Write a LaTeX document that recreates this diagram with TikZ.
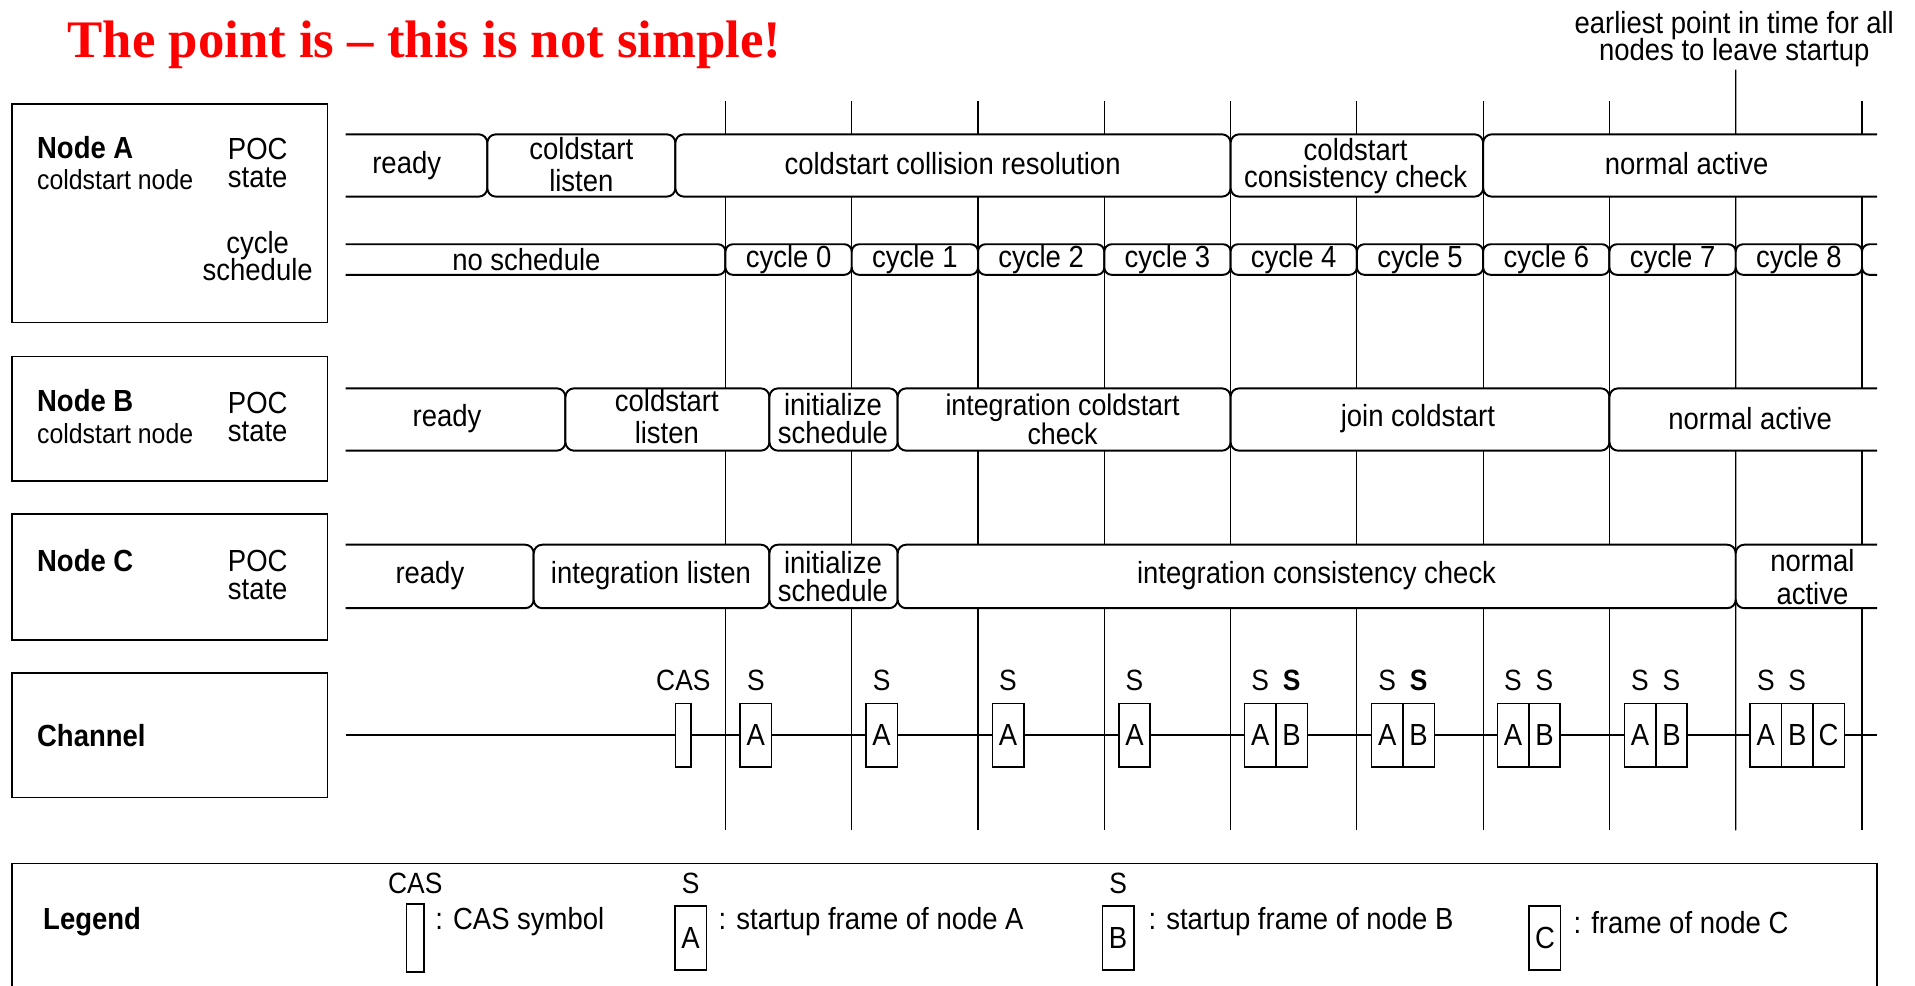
\documentclass[tikz,border=0pt]{standalone}
\usepackage{fontspec}
\setmainfont{Liberation Sans}[FakeStretch=0.9]
\newfontfamily\titlefont{Liberation Serif}[Ligatures=TeX]
\definecolor{titlered}{RGB}{255,0,0}
\begin{document}
\lineskiplimit=-20pt
\begin{tikzpicture}[x=0.5pt,y=-0.5pt,
  lbl/.style={inner sep=0pt, align=center, font=\fontsize{12.5}{13}\selectfont},
  lbltight/.style={inner sep=0pt, align=center, font=\fontsize{12.5}{11.5}\selectfont},
  hdr/.style={inner sep=0pt, anchor=west, font=\bfseries\fontsize{12.5}{13}\selectfont},
  subl/.style={inner sep=0pt, anchor=west, font=\fontsize{11.3}{13}\selectfont},
  nbox/.style={draw, line width=0.65pt},
  seg/.style={draw, fill=white, line width=0.8pt, rounded corners=3.5pt},
  cyc/.style={draw, fill=white, line width=0.8pt, rounded corners=3pt},
  vl/.style={line width=0.5pt},
  chan/.style={line width=1pt},
  frm/.style={draw, fill=white, line width=0.65pt, inner sep=0pt, minimum width=12.85pt, minimum height=26pt, font=\fontsize{12.5}{13}\selectfont},
  slbl/.style={inner sep=0pt, font=\fontsize{12}{13}\selectfont},
]
\useasboundingbox (0,0) rectangle (1568,807);
\clip (0,0) rectangle (1568,807);

% title
\node[anchor=base west, inner sep=0pt, text=titlered, font=\titlefont\bfseries\fontsize{21.6}{24}\selectfont] (title) at (55,47) {The point is – this is not simple!};

% annotation
\node[lbl, font=\fontsize{12.5}{11}\selectfont] (earliest) at (1420,32) {earliest point in time for all\\nodes to leave startup};

% vertical cycle lines
\foreach \k in {0,...,9} {
  \pgfmathsetmacro\xx{594+103.4*\k}
  \coordinate (vt\k) at (\xx,83);
  \coordinate (vb\k) at (\xx,680);
}
\coordinate (vt8) at (1421.2,57);
\foreach \k in {0,...,9} { \draw[vl] (vt\k) -- (vb\k); }

% left boxes
\draw[nbox] (10,85) rectangle (268,264);
\draw[nbox] (10,292) rectangle (268,394);
\draw[nbox] (10,421) rectangle (268,524);
\draw[nbox] (10,551) rectangle (268,653);
\draw[nbox] (10,707) rectangle (1537,830);

\node[hdr] (nA) at (30,121) {Node A};
\node[subl] (nAs) at (30,147) {coldstart node};
\node[lbltight] (pocA) at (211,133.5) {POC\\state};
\node[lbl, font=\fontsize{12.5}{11}\selectfont] (cycA) at (211,210) {cycle\\schedule};

\node[hdr] (nB) at (30,328) {Node B};
\node[subl] (nBs) at (30,355) {coldstart node};
\node[lbltight] (pocB) at (211,341.5) {POC\\state};

\node[hdr] (nC) at (30,459) {Node C};
\node[lbltight] (pocC) at (211,471) {POC\\state};

\node[hdr] (chn) at (30,602) {Channel};

% ---- Node A POC state row
\draw[seg] (283,110) -- (399,110) -- (399,161) -- (283,161);
\draw[seg] (399,110) rectangle (553,161);
\draw[seg] (553,110) rectangle (1007.6,161);
\draw[seg] (1007.6,110) rectangle (1214.4,161);
\draw[seg] (1537,110) -- (1214.4,110) -- (1214.4,161) -- (1537,161);
\node[lbl] (a1) at (333,135.5) {ready};
\node[lbl] (a2) at (476,134.5) {coldstart\\listen};
\node[lbl] (a3) at (780,134) {coldstart collision resolution};
\node[lbl, font=\fontsize{12.5}{11.2}\selectfont] (a4) at (1110,136) {coldstart\\consistency check};
\node[lbl] (a5) at (1381,134) {normal active};

% ---- Node A cycle schedule row
\draw[cyc] (283,200) -- (594,200) -- (594,225) -- (283,225);
\node[lbl] (ns) at (431,212.5) {no schedule};
\foreach \k in {0,...,8} {
  \pgfmathsetmacro\xa{594+103.4*\k}
  \pgfmathsetmacro\xb{594+103.4*(\k+1)}
  \pgfmathsetmacro\xm{594+103.4*(\k+0.5)}
  \draw[cyc] (\xa,200) rectangle (\xb,225);
  \node[lbl] (cy\k) at (\xm,212.5) {cycle \k};
}
\draw[cyc] (1537,200) -- (1524.6,200) -- (1524.6,225) -- (1537,225);

% ---- Node B POC state row
\draw[seg] (283,318) -- (463,318) -- (463,369) -- (283,369);
\draw[seg] (463,318) rectangle (630,369);
\draw[seg] (630,318) rectangle (735,369);
\draw[seg] (735,318) rectangle (1007.6,369);
\draw[seg] (1007.6,318) rectangle (1317.8,369);
\draw[seg] (1537,318) -- (1317.8,318) -- (1317.8,369) -- (1537,369);
\node[lbl] (b1) at (366,343) {ready};
\node[lbl] (b2) at (546,341) {coldstart\\listen};
\node[lbltight] (b3) at (682,342.5) {initialize\\schedule};
\node[lbl, font=\fontsize{12.2}{11.8}\selectfont] (b4) at (870,343.5) {integration coldstart\\check};
\node[lbl] (b5) at (1161,343) {join coldstart};
\node[lbl] (b6) at (1433,343) {normal active};

% ---- Node C POC state row
\draw[seg] (283,446) -- (437,446) -- (437,498) -- (283,498);
\draw[seg] (437,446) rectangle (630,498);
\draw[seg] (630,446) rectangle (735,498);
\draw[seg] (735,446) rectangle (1421.2,498);
\draw[seg] (1537,446) -- (1421.2,446) -- (1421.2,498) -- (1537,498);
\node[lbl] (c1) at (352,471) {ready};
\node[lbl] (c2) at (533,471) {integration listen};
\node[lbltight] (c3) at (682,472) {initialize\\schedule};
\node[lbl] (c4) at (1078,471) {integration consistency check};
\node[lbl, font=\fontsize{12.5}{13.5}\selectfont] (c5) at (1484,472.5) {normal\\active};

% ---- Channel row
\coordinate (chL) at (283,602);
\coordinate (chR) at (1537,602);
\draw[chan] (chL) -- (chR);
\node[frm, minimum width=6.5pt] (cas) at (559.5,602) {};
\node[slbl] (casl) at (559.5,557) {CAS};
\foreach \n/\x in {1/606,2/709,3/812.5,4/916} {
  \node[frm] (fA\n) at (\x+12.85,602) {A};
  \node[slbl] (sA\n) at (\x+12.85,557) {S};
}
\foreach \n/\x/\bs in {5/1019/\bfseries,6/1123/\bfseries,7/1226/,8/1330/} {
  \node[frm] (fA\n) at (\x+12.85,602) {A};
  \node[frm] (fB\n) at (\x+38.55,602) {B};
  \node[slbl] (sA\n) at (\x+12.85,557) {S};
  \node[slbl] (sB\n) at (\x+38.55,557) {\bs S};
}
\node[frm] (fA9) at (1445.85,602) {A};
\node[frm] (fB9) at (1471.55,602) {B};
\node[frm] (fC9) at (1497.25,602) {C};
\node[slbl] (sA9) at (1445.85,557) {S};
\node[slbl] (sB9) at (1471.55,557) {S};

% ---- Legend
\node[hdr] (leg) at (35,755) {Legend};
\node[slbl] (lcas) at (340,723) {CAS};
\node[frm, minimum width=7pt, minimum height=28pt] (lcasb) at (340,768) {};
\node[lbl, anchor=west] (lcast) at (356,755) {: CAS symbol};
\node[slbl] (lsa) at (565.5,723) {S};
\node[frm] (lA) at (565.5,768) {A};
\node[lbl, anchor=west] (lAt) at (588,755) {: startup frame of node A};
\node[slbl] (lsb) at (915.5,723) {S};
\node[frm] (lB) at (915.5,768) {B};
\node[lbl, anchor=west] (lBt) at (940,755) {: startup frame of node B};
\node[frm] (lC) at (1265,768) {C};
\node[lbl, anchor=west] (lCt) at (1288,755) {: frame of node C};
\end{tikzpicture}
\end{document}
